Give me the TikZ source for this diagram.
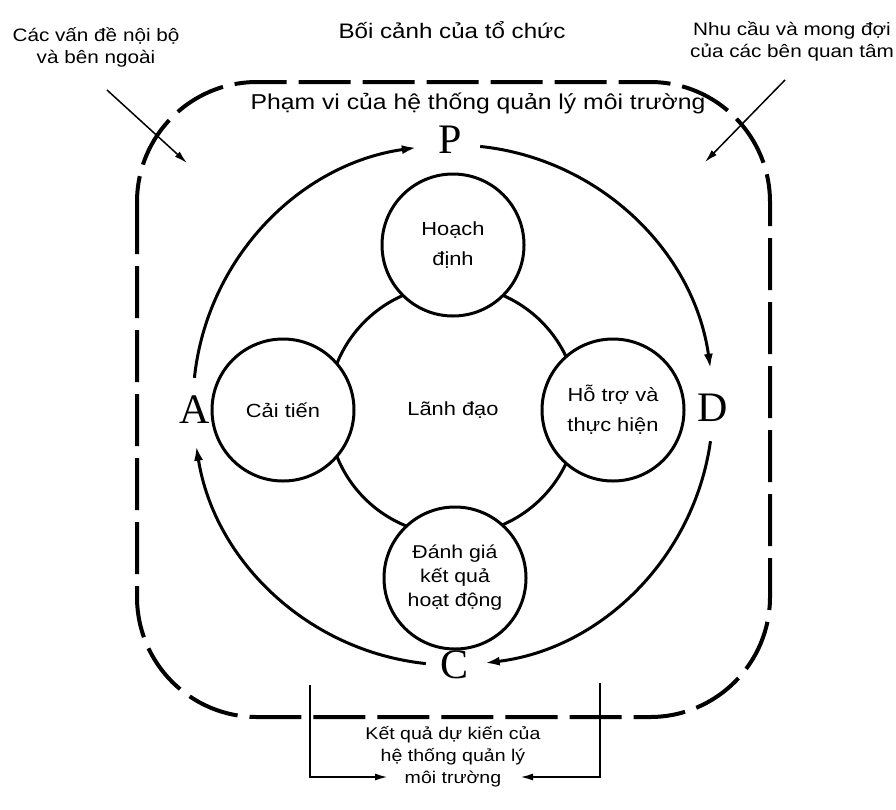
\documentclass[tikz,border=0pt]{standalone}
\usepackage{fontspec}
\setmainfont{Liberation Sans}[FakeStretch=1.15]
\newfontfamily\pdcafont{Liberation Serif}
\usetikzlibrary{arrows.meta}

\begin{document}
\begin{tikzpicture}[
    x=1pt, y=1pt,
    stage/.style={draw, circle, line width=3pt, fill=white, minimum size=142pt, inner sep=0pt, font=\fontsize{19}{30}\selectfont},
    letter/.style={font=\pdcafont\fontsize{42}{42}\selectfont, inner sep=0pt},
    cycle/.style={line width=3pt, -{Latex[length=15pt,width=9pt]}},
    note/.style={font=\fontsize{18}{22}\selectfont},
    pointer/.style={line width=1.5pt, -{Latex[length=13pt,width=7pt]}},
    bracket/.style={line width=2pt, -{Latex[length=13pt,width=7pt]}},
    every node/.style={align=center}
  ]
  \useasboundingbox (0,0) rectangle (896,-809);

  % Context of the organization
  \node[font=\fontsize{21}{24}\selectfont] (context) at (452,-30) {Bối cảnh của tổ chức};
  \node[note] (issues) at (96,-47) {Các vấn đề nội bộ\\và bên ngoài};
  \node[note] (needs) at (792,-41) {Nhu cầu và mong đợi\\của các bên quan tâm};

  % Scope of the EMS
  \draw[line width=4pt, dash pattern=on 52pt off 12pt, rounded corners=120pt] (137,-82) rectangle (770,-717);
  \node[font=\fontsize{21.5}{24}\selectfont] (scope) at (478,-103) {Phạm vi của hệ thống quản lý môi trường};

  % Inputs from outside
  \coordinate (issuesout) at (107,-90);
  \coordinate (issuesin) at (187,-163);
  \coordinate (needsout) at (785,-80);
  \coordinate (needsin) at (705,-162);
  \draw[pointer] (issuesout) -- (issuesin);
  \draw[pointer] (needsout) -- (needsin);

  % Leadership and the four stages
  \node[draw, circle, line width=3pt, minimum size=250pt, font=\fontsize{19}{22}\selectfont] (lead) at (453,-410) {Lãnh đạo};
  \node[stage] (plan) at (453,-245) {Hoạch\\định};
  \node[stage] (improve) at (283,-410) {Cải tiến};
  \node[stage] (support) at (613,-410) {Hỗ trợ và\\thực hiện};
  \node[stage, font=\fontsize{18.5}{24}\selectfont] (evaluate) at (455,-578) {Đánh giá\\kết quả\\hoạt động};

  % PDCA cycle
  \coordinate (hub) at (453,-405);
  \node[letter] (P) at (450,-140) {P};
  \node[letter] (D) at (713,-408) {D};
  \node[letter] (C) at (455,-665) {C};
  \node[letter] (A) at (195,-410) {A};
  \draw[cycle] ([shift={(174:260)}]hub) arc[start angle=174, end angle=98, radius=260];
  \draw[cycle] ([shift={(84:260)}]hub) arc[start angle=84, end angle=8, radius=260];
  \draw[cycle] ([shift={(-8:260)}]hub) arc[start angle=-8, end angle=-83, radius=260];
  \draw[cycle] ([shift={(-96:260)}]hub) arc[start angle=-96, end angle=-171, radius=260];

  % Intended outcomes
  \node[font=\fontsize{17}{22}\selectfont] (outcome) at (453,-757) {Kết quả dự kiến của\\hệ thống quản lý\\môi trường};
  \coordinate (leftup) at (310,-685);
  \coordinate (leftin) at (388,-777);
  \coordinate (rightup) at (600,-683);
  \coordinate (rightin) at (520,-777);
  \draw[bracket] (leftup) |- (leftin);
  \draw[bracket] (rightup) |- (rightin);
\end{tikzpicture}
\end{document}
